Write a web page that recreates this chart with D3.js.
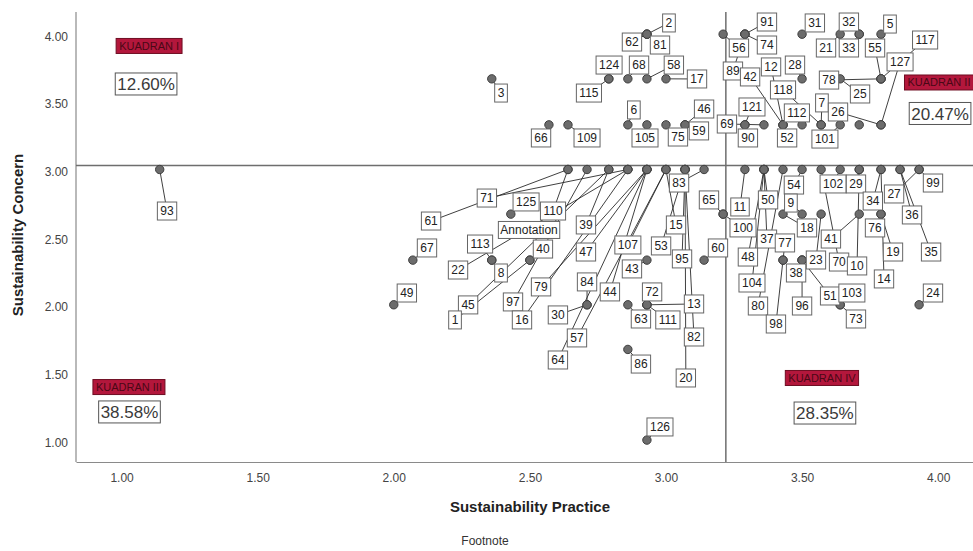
<!DOCTYPE html>
<html><head><meta charset="utf-8">
<script src="https://cdn.jsdelivr.net/npm/d3@7"></script>
<style>body{margin:0;background:#fff}svg{display:block}</style>
</head><body>
<svg id="c" width="973" height="551"></svg>
<script>
// ---- data ----
const caseIds = [
  2,62,81,56,91,74,89,31,21,32,33,5,
  3,124,115,68,58,17,28,25,78,55,117,
  66,109,6,105,75,59,46,121,90,69,42,12,52,112,7,118,101,106,26,127,
  93,61,110,71,39,22,97,47,79,16,44,107,57,64,15,45,83,95,82,20,53,
  11,50,37,48,104,80,54,70,102,29,10,34,14,36,35,27,99,
  125,65,100,18,9,23,41,76,19,
  67,113,8,40,1,43,60,77,98,38,96,51,
  49,84,30,63,72,111,13,103,73,24,
  86,126
];
const practice = [
  2.93,2.93,2.93,3.21,3.29,3.29,3.29,3.50,3.64,3.71,3.71,3.79,
  2.36,2.79,2.79,2.86,2.93,3.00,3.50,3.64,3.79,3.79,3.79,
  2.57,2.64,2.86,2.93,3.00,3.07,3.07,3.29,3.29,3.36,3.43,3.43,3.43,3.50,3.57,3.57,3.64,3.71,3.79,3.79,
  1.14,2.64,2.64,2.86,2.79,2.86,2.71,2.93,2.93,2.86,2.93,3.00,3.00,2.93,3.00,2.79,3.14,3.07,3.07,3.07,3.07,
  3.29,3.36,3.36,3.36,3.36,3.43,3.50,3.57,3.64,3.71,3.71,3.79,3.79,3.86,3.86,3.93,3.93,
  2.43,3.21,3.21,3.43,3.50,3.57,3.71,3.79,3.79,
  2.07,2.36,2.36,2.50,2.50,2.93,3.14,3.43,3.43,3.50,3.50,3.50,
  2.00,2.71,2.71,2.86,2.93,2.93,2.93,3.64,3.64,3.93,
  2.86,2.93
];
const concern = [
  4.00,4.00,4.00,4.00,4.00,4.00,4.00,4.00,4.00,4.00,4.00,4.00,
  3.67,3.67,3.67,3.67,3.67,3.67,3.67,3.67,3.67,3.67,3.67,
  3.33,3.33,3.33,3.33,3.33,3.33,3.33,3.33,3.33,3.33,3.33,3.33,3.33,3.33,3.33,3.33,3.33,3.33,3.33,3.33,
  3.00,3.00,3.00,3.00,3.00,3.00,3.00,3.00,3.00,3.00,3.00,3.00,3.00,3.00,3.00,3.00,3.00,3.00,3.00,3.00,3.00,
  3.00,3.00,3.00,3.00,3.00,3.00,3.00,3.00,3.00,3.00,3.00,3.00,3.00,3.00,3.00,3.00,3.00,
  2.67,2.67,2.67,2.67,2.67,2.67,2.67,2.67,2.67,
  2.33,2.33,2.33,2.33,2.33,2.33,2.33,2.33,2.33,2.33,2.33,2.33,
  2.00,2.00,2.00,2.00,2.00,2.00,2.00,2.00,2.00,2.00,
  1.67,1.00
];
// where each case label box sits (in data units); null = label hidden
const labelPractice = [
  3.011,2.875,2.978,3.268,3.371,3.371,3.246,3.547,3.588,3.672,3.672,3.823,
  2.394,2.791,2.717,2.901,3.029,3.114,3.474,3.713,3.599,3.768,3.952,
  2.541,2.710,2.882,2.923,3.044,3.121,3.140,3.316,3.301,3.224,3.309,3.386,3.445,3.481,3.573,3.430,3.584,null,3.632,3.860,
  1.167,2.137,2.585,2.342,2.706,2.236,2.438,2.706,2.541,2.471,2.794,2.860,2.673,2.603,3.037,2.273,3.048,3.059,3.103,3.073,2.982,
  3.272,3.375,3.371,3.301,3.316,3.338,3.470,3.636,3.614,3.698,3.702,3.760,3.801,3.904,3.974,3.838,3.981,
  2.486,3.158,3.283,3.518,3.459,3.551,3.606,3.768,3.834,
  2.122,2.317,2.394,2.548,2.225,2.875,3.191,3.437,3.404,3.478,3.500,3.603,
  2.048,2.710,2.603,2.908,2.949,3.007,3.103,3.683,3.698,3.981,
  2.908,2.978
];
const labelConcern = [
  4.083,3.942,3.920,3.898,4.090,3.920,3.728,4.083,3.898,4.090,3.898,4.075,
  3.565,3.772,3.565,3.772,3.772,3.669,3.772,3.558,3.661,3.898,3.957,
  3.233,3.233,3.440,3.233,3.240,3.285,3.447,3.462,3.233,3.336,3.684,3.758,3.233,3.418,3.492,3.588,3.225,null,3.425,3.795,
  2.693,2.619,2.693,2.789,2.590,2.257,2.021,2.390,2.132,1.888,2.095,2.442,1.755,1.592,2.590,1.999,2.900,2.339,1.762,1.459,2.435,
  2.723,2.775,2.486,2.353,2.161,1.991,2.885,2.316,2.893,2.893,2.287,2.767,2.191,2.664,2.390,2.819,2.900,
  2.760,2.775,2.568,2.568,2.752,2.331,2.486,2.568,2.390,
  2.420,2.449,2.235,2.412,1.888,2.265,2.420,2.457,1.858,2.235,1.991,2.065,
  2.087,2.169,1.925,1.895,2.095,1.888,2.006,2.087,1.895,2.087,
  1.562,1.097
];
const xTicks = [1.00,1.50,2.00,2.50,3.00,3.50,4.00];
const yTicks = [1.00,1.50,2.00,2.50,3.00,3.50,4.00];
const refPractice = 3.22;   // vertical reference line
const refConcern = 3.03;    // horizontal reference line
const quadrantNames  = ["KUADRAN I","KUADRAN II","KUADRAN III","KUADRAN IV"];
const quadrantShares = ["12.60%","20.47%","38.58%","28.35%"];
const quadrantNamePractice  = [1.101,4.003,1.027,3.573];
const quadrantNameConcern   = [3.913,3.643,1.392,1.459];
const quadrantSharePractice = [1.090,4.007,1.029,3.584];
const quadrantShareConcern  = [3.632,3.414,1.208,1.200];
const noteText = "Annotation";
const notePractice = 2.497, noteConcern = 2.553;
const xTitle = "Sustainability Practice";
const yTitle = "Sustainability Concern";
const footnote = "Footnote";

// ---- layout ----
const L = 76, R = 973, T = 12, B = 462;
const x = d3.scaleLinear().domain([0.8325, 4.128]).range([L, R]);
const y = d3.scaleLinear().domain([0.838, 4.164]).range([B, T]);
const FONT = "'Liberation Sans', Arial, sans-serif";
const svg = d3.select('#c');

svg.append('defs').append('clipPath').attr('id','plotclip')
  .append('rect').attr('x', L).attr('y', 0).attr('width', R - L).attr('height', B);

// axes
const xAxis = svg.append('g').attr('transform', `translate(0,${B})`)
  .call(d3.axisBottom(x).tickValues(xTicks).tickSize(0).tickPadding(11).tickFormat(d3.format('.2f')));
const yAxis = svg.append('g').attr('transform', `translate(${L},0)`)
  .call(d3.axisLeft(y).tickValues(yTicks).tickSize(0).tickPadding(8).tickFormat(d3.format('.2f')));
yAxis.select('.domain').attr('d', `M0,${T}V${B}`);
[xAxis, yAxis].forEach(a => {
  a.select('.domain').attr('stroke', '#8a8a8a').attr('stroke-width', 1.2);
  a.selectAll('text').attr('font-family', FONT).attr('font-size', 12).attr('fill', '#444');
});
yAxis.selectAll('text').attr('dy', '0.5em');

// titles
svg.append('text').attr('x', 530).attr('y', 512).attr('text-anchor', 'middle')
  .attr('font-family', FONT).attr('font-weight', 'bold').attr('font-size', 15).attr('fill', '#222').text(xTitle);
svg.append('text').attr('transform', 'translate(23,235) rotate(-90)').attr('text-anchor', 'middle')
  .attr('font-family', FONT).attr('font-weight', 'bold').attr('font-size', 15).attr('fill', '#222').text(yTitle);
svg.append('text').attr('x', 485).attr('y', 545).attr('text-anchor', 'middle')
  .attr('font-family', FONT).attr('font-size', 12).attr('fill', '#333').text(footnote);

const plot = svg.append('g').attr('clip-path', 'url(#plotclip)');

// reference lines
plot.append('line').attr('x1', L).attr('x2', R).attr('y1', y(refConcern)).attr('y2', y(refConcern))
  .attr('stroke', '#6e6e6e').attr('stroke-width', 1.5);
plot.append('line').attr('x1', x(refPractice)).attr('x2', x(refPractice)).attr('y1', T).attr('y2', B)
  .attr('stroke', '#6e6e6e').attr('stroke-width', 1.5);

// leader lines
const idx = d3.range(caseIds.length);
plot.append('g').selectAll('line').data(idx.filter(i => labelPractice[i] != null)).join('line')
  .attr('x1', i => x(practice[i])).attr('y1', i => y(concern[i]))
  .attr('x2', i => x(labelPractice[i])).attr('y2', i => y(labelConcern[i]))
  .attr('stroke', '#2a2a2a').attr('stroke-width', 0.9);

// dots
plot.append('g').selectAll('circle').data(idx).join('circle')
  .attr('cx', i => x(practice[i])).attr('cy', i => y(concern[i])).attr('r', 4.2)
  .attr('fill', '#6c6c6c').attr('stroke', '#3e3e3e').attr('stroke-width', 1);

// label boxes
function box(parent, text, px, py, size, h, pad) {
  const gg = parent.append('g');
  const r = gg.append('rect');
  const t = gg.append('text').attr('x', px).attr('y', py).attr('dy', '0.36em')
    .attr('text-anchor', 'middle').attr('font-family', FONT).attr('font-size', size)
    .attr('fill', '#222').text(text);
  const w = t.node().getComputedTextLength() + pad * 2;
  r.attr('x', px - w / 2).attr('y', py - h / 2).attr('width', w).attr('height', h)
    .attr('fill', '#fff').attr('stroke', '#666').attr('stroke-width', 1);
  return gg;
}
const labels = plot.append('g');
idx.forEach(i => {
  if (labelPractice[i] == null) return;
  box(labels, String(caseIds[i]), x(labelPractice[i]), y(labelConcern[i]), 12, 18, 3);
});
box(labels, noteText, x(notePractice), y(noteConcern), 12, 17, 2);

// quadrant tags
quadrantNames.forEach((name, q) => {
  const cx = x(quadrantNamePractice[q]), cy = y(quadrantNameConcern[q]);
  const gg = plot.append('g');
  const r = gg.append('rect');
  const t = gg.append('text').attr('x', cx).attr('y', cy).attr('dy', '0.36em')
    .attr('text-anchor', 'middle').attr('font-family', FONT).attr('font-size', 11)
    .attr('fill', '#4a0816').text(name);
  const w = t.node().getComputedTextLength() + 6;
  r.attr('x', cx - w / 2).attr('y', cy - 7.5).attr('width', w).attr('height', 15)
    .attr('fill', '#b3173c').attr('stroke', '#6e0d22').attr('stroke-width', 1);
  const s = box(plot, quadrantShares[q], x(quadrantSharePractice[q]), y(quadrantShareConcern[q]), 17, 22, 2);
  s.select('text').attr('fill', '#3a3a3a');
  s.select('rect').attr('stroke', '#555');
});
</script>
</body></html>
